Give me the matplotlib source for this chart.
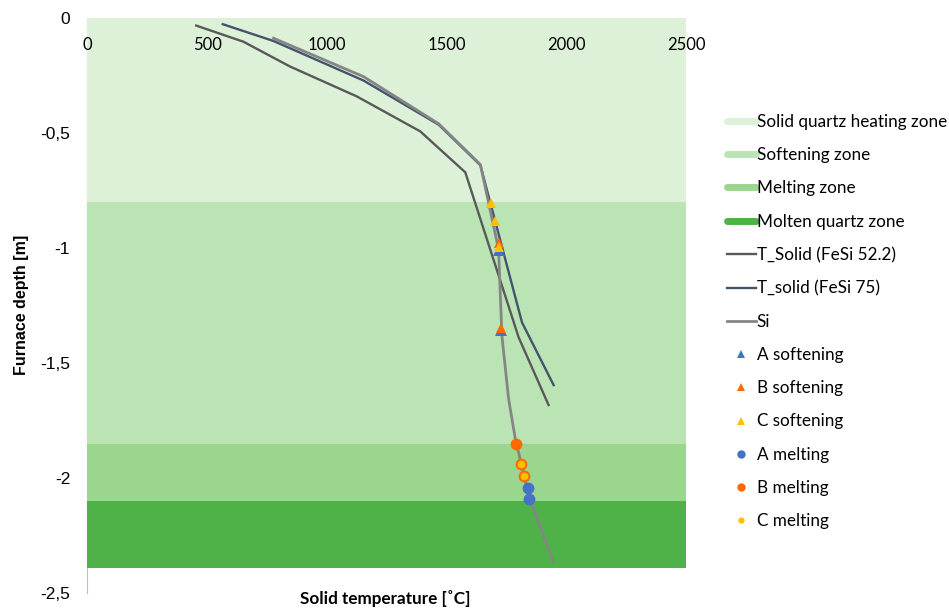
import matplotlib.pyplot as plt
from matplotlib.lines import Line2D

# furnace zones (depth in m)
zone_names = ['Solid quartz heating zone', 'Softening zone', 'Melting zone', 'Molten quartz zone']
zone_top = [0.0, -0.8, -1.85, -2.1]
zone_bottom = [-0.8, -1.85, -2.1, -2.39]
zone_colors = ['#DCF1D8', '#BBE4B5', '#9BD68E', '#4FB248']

# temperature profiles
t522_x = [454, 651, 846, 1125, 1390, 1578, 1801, 1926]
t522_y = [-0.033, -0.103, -0.211, -0.341, -0.493, -0.671, -1.389, -1.683]
t75_x = [565, 777, 1153, 1467, 1641, 1815, 1947]
t75_y = [-0.027, -0.100, -0.272, -0.464, -0.640, -1.324, -1.596]
si_x = [777, 1153, 1467, 1641, 1717, 1731, 1759, 1787, 1843, 1945]
si_y = [-0.088, -0.255, -0.460, -0.637, -1.006, -1.382, -1.657, -1.830, -2.076, -2.365]

# measured softening / melting points
a_soft_x = [1717, 1727]
a_soft_y = [-1.008, -1.355]
b_soft_x = [1717, 1727]
b_soft_y = [-0.978, -1.348]
c_soft_x = [1685, 1703, 1717]
c_soft_y = [-0.804, -0.883, -0.995]
a_melt_x = [1839, 1844]
a_melt_y = [-2.044, -2.090]
b_melt_x = [1791, 1812, 1825]
b_melt_y = [-1.852, -1.938, -1.992]
c_melt_x = [1812, 1825]
c_melt_y = [-1.938, -1.992]

fig = plt.figure(figsize=(9.49, 6.16), dpi=100)
ax = fig.add_axes([0.0922, 0.0373, 0.6307, 0.9335])

for top, bot, col in zip(zone_top, zone_bottom, zone_colors):
    ax.fill_between([0, 2500], top, bot, color=col, lw=0, zorder=1)

ax.plot(t522_x, t522_y, color='#595959', lw=1.7, zorder=3)
ax.plot(t75_x, t75_y, color='#44546A', lw=1.7, zorder=3)
ax.plot(si_x, si_y, color='#858585', lw=2.0, zorder=3)

ax.plot(a_soft_x, a_soft_y, '^', color='#4472C4', ms=8, mew=0, zorder=4)
ax.plot(b_soft_x, b_soft_y, '^', color='#FF6A00', ms=7.5, mew=0, zorder=5)
ax.plot(c_soft_x, c_soft_y, '^', color='#FFC000', ms=7.5, mew=0, zorder=6)
ax.plot(a_melt_x, a_melt_y, 'o', color='#4472C4', ms=8.5, mew=0, zorder=4)
ax.plot(b_melt_x, b_melt_y, 'o', color='#FF6A00', ms=8.5, mew=0, zorder=5)
ax.plot(c_melt_x, c_melt_y, 'o', color='#FFC000', ms=5.5, mew=0, zorder=6)

ax.set_xlim(0, 2500)
ax.set_ylim(-2.5, 0)
ax.set_xticks([0, 500, 1000, 1500, 2000, 2500])
ax.set_xticklabels(['0', '500', '1000', '1500', '2000', '2500'], fontfamily='Lato', fontsize=12)
ax.set_yticks([0, -0.5, -1, -1.5, -2, -2.5])
ax.set_yticklabels(['0', '-0,5', '-1', '-1,5', '-2', '-2,5'], fontfamily='Liberation Sans', fontsize=12.5)
ax.tick_params(axis='x', bottom=False, labelbottom=False, top=False, labeltop=True, length=0, pad=-25)
ax.tick_params(axis='y', length=0, pad=12.5)

for s in ['top', 'right', 'bottom']:
    ax.spines[s].set_visible(False)
ax.spines['left'].set_color('#BFBFBF')
ax.spines['left'].set_zorder(0.5)

fig.text(0.0229, 0.505, 'Furnace depth [m]', fontfamily='Liberation Sans', fontweight='bold',
         fontsize=11.5, rotation=90, ha='center', va='center')
fig.text(0.406, 0.028, 'Solid temperature [˚C]', fontfamily='Lato', fontweight='bold',
         fontsize=12.3, ha='center', va='center')

handles = [Line2D([], [], color=c, lw=5, solid_capstyle='round') for c in zone_colors]
handles += [
    Line2D([], [], color='#595959', lw=1.7),
    Line2D([], [], color='#44546A', lw=1.7),
    Line2D([], [], color='#858585', lw=2.0),
    Line2D([], [], ls='', marker='^', color='#4472C4', ms=6, mew=0),
    Line2D([], [], ls='', marker='^', color='#FF6A00', ms=6, mew=0),
    Line2D([], [], ls='', marker='^', color='#FFC000', ms=6, mew=0),
    Line2D([], [], ls='', marker='o', color='#4472C4', ms=6, mew=0),
    Line2D([], [], ls='', marker='o', color='#FF6A00', ms=6, mew=0),
    Line2D([], [], ls='', marker='o', color='#FFC000', ms=4.5, mew=0),
]
labels = zone_names + ['T_Solid (FeSi 52.2)', 'T_solid (FeSi 75)', 'Si', 'A softening', 'B softening',
                       'C softening', 'A melting', 'B melting', 'C melting']
fig.legend(handles, labels, loc='upper left', bbox_to_anchor=(0.766, 0.815), frameon=False,
           prop={'family': 'Lato', 'size': 12.3}, handlelength=1.7, handletextpad=0.05,
           labelspacing=1.01, borderpad=0, borderaxespad=0)

fig.savefig('out.png', dpi=100)
